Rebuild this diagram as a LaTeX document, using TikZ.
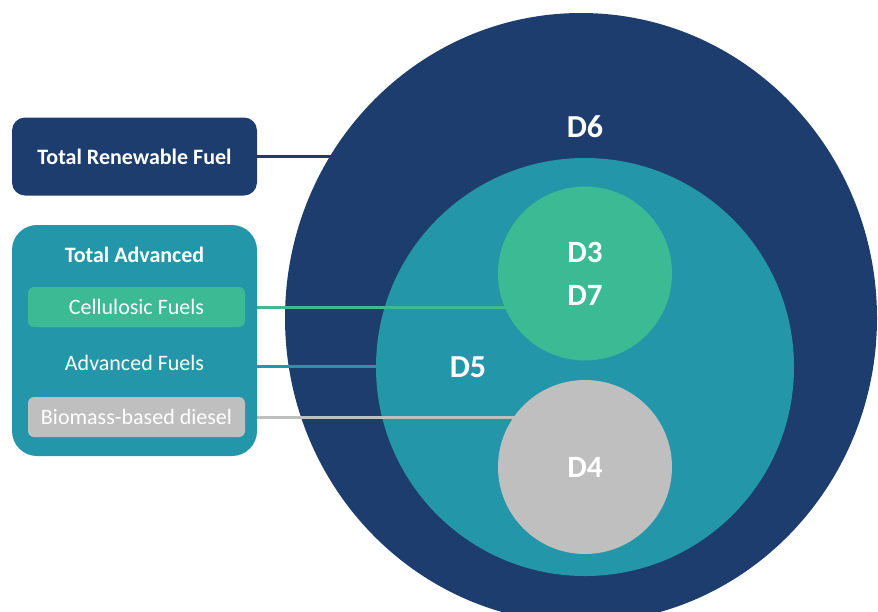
\documentclass[tikz,border=0pt]{standalone}
\usepackage{fontspec}
\setmainfont{Carlito}
\usetikzlibrary{shapes.geometric}

\definecolor{navy}{RGB}{30,61,111}
\definecolor{tealc}{RGB}{35,151,169}
\definecolor{greenc}{RGB}{59,186,147}
\definecolor{greyc}{RGB}{191,191,191}

\pgfdeclarelayer{linesA}
\pgfdeclarelayer{discA}
\pgfdeclarelayer{linesB}
\pgfdeclarelayer{discB}
\pgfdeclarelayer{linesC}
\pgfsetlayers{linesA,discA,linesB,discB,linesC,main}

\tikzset{
  disc/.style={circle, inner sep=0pt, text=white, font=\fontsize{31}{43}\selectfont\bfseries, align=center},
  disclabel/.style={text=white, font=\fontsize{32}{36}\selectfont\bfseries},
  panel/.style={rounded corners=#1, inner sep=0pt, text=white},
  tag/.style={rounded corners=6pt, inner sep=0pt, minimum width=217pt, minimum height=40pt,
              text=white, font=\fontsize{22}{26}\selectfont},
  link/.style={line width=3pt},
}

\begin{document}
\begin{tikzpicture}[x=1pt, y=-1pt]
  \useasboundingbox (0,0) rectangle (878,611);

  % nested category discs
  \begin{pgfonlayer}{discA}
    \node[ellipse, fill=navy, inner sep=0pt, minimum width=592pt, minimum height=610pt] (d6) at (581,318) {};
  \end{pgfonlayer}
  \begin{pgfonlayer}{discB}
    \node[disc, fill=tealc, minimum size=418pt] (d5) at (585,367) {};
  \end{pgfonlayer}
  \node[disc, fill=greenc, minimum size=174pt] (d37) at (585,273.5) {D3\\D7};
  \node[disc, fill=greyc, minimum size=174pt] (d4) at (585,467) {D4};
  \node[disclabel] (lab6) at (585,127) {D6};
  \node[disclabel] (lab5) at (468,367.5) {D5};

  % legend panels
  \node[panel=13pt, fill=navy, minimum width=245pt, minimum height=78pt,
        font=\fontsize{22}{26}\selectfont\bfseries] (trf) at (134.5,156.5) {Total Renewable Fuel};
  \node[panel=25pt, fill=tealc, minimum width=245pt, minimum height=231pt] (ta) at (134.5,340.5) {};
  \node[text=white, font=\fontsize{22}{26}\selectfont\bfseries] (tatitle) at (134.5,255) {Total Advanced};
  \node[tag, fill=greenc] (cell) at (136.5,307) {Cellulosic Fuels};
  \node[text=white, font=\fontsize{22}{26}\selectfont] (adv) at (134.5,363) {Advanced Fuels};
  \node[tag, fill=greyc] (bio) at (136.5,417) {Biomass-based diesel};

  % connectors, each tucked under the disc it points to
  \begin{pgfonlayer}{linesA}
    \draw[link, navy] (trf.east) -- (trf.east -| d6.center);
  \end{pgfonlayer}
  \begin{pgfonlayer}{linesB}
    \draw[link, tealc] (ta.east |- 0,366) coordinate (advend) -- (advend -| d5.center);
  \end{pgfonlayer}
  \begin{pgfonlayer}{linesC}
    \draw[link, greenc] (cell.east) -- (cell.east -| d37.center);
    \draw[link, greyc] (bio.east) -- (bio.east -| d4.center);
  \end{pgfonlayer}
\end{tikzpicture}
\end{document}
